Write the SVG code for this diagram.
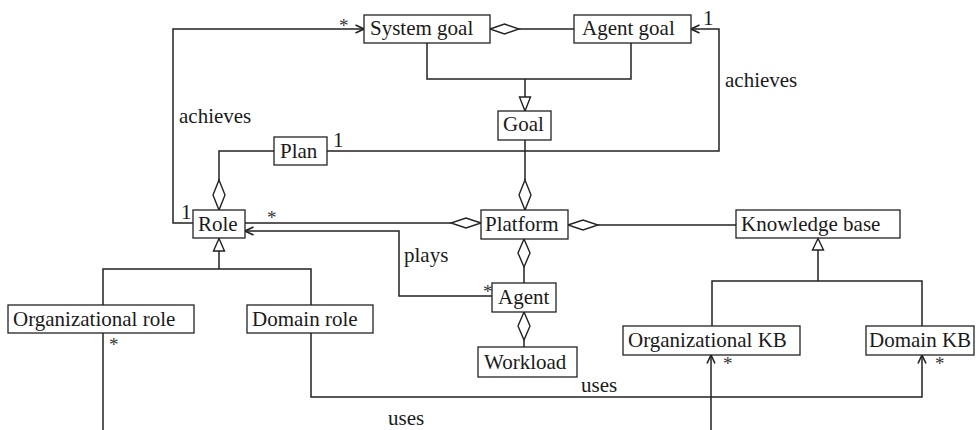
<svg xmlns="http://www.w3.org/2000/svg" width="976" height="430" viewBox="0 0 976 430">
<style>
.box{fill:#fff;stroke:#222;stroke-width:1.3}
.t{font-family:"Liberation Serif","Times New Roman",serif;font-size:21px;fill:#1a1a1a}
.s{font-family:"Liberation Serif","Times New Roman",serif;font-size:19px;fill:#333}
.ln{fill:none;stroke:#222;stroke-width:1.5}
.ar{fill:none;stroke:#222;stroke-width:1.5;marker-end:url(#arr)}
.dia{fill:#fff;stroke:#222;stroke-width:1.4}
.tri{fill:#fff;stroke:#222;stroke-width:1.4}
</style>
<defs>
<marker id="arr" viewBox="0 0 10 10" refX="9.5" refY="5" markerWidth="10" markerHeight="10" markerUnits="userSpaceOnUse" orient="auto">
<path d="M1,1 L9.5,5 L1,9" fill="none" stroke="#222" stroke-width="1.6"/>
</marker>
</defs>
<rect width="976" height="430" fill="#fff"/>
<g id="connectors">
<path class="ln" d="M519,29 H574"/>
<polygon class="dia" points="490,29 504.5,24 519,29 504.5,34"/>
<path class="ln" d="M427,43 V79 H631 V43 M525,79 V97"/>
<polygon class="tri" points="519.5,97 530.5,97 525,111"/>
<path class="ar" d="M193,223 H173 V29 H364"/>
<path class="ar" d="M327,151 H719 V29 H691"/>
<path class="ln" d="M274,151 H219 V180"/>
<polygon class="dia" points="219,180 225,195 219,210 213,195"/>
<path class="ln" d="M245,223 H451"/>
<polygon class="dia" points="481,223 466,218 451,223 466,228"/>
<path class="ar" d="M492,296 H399 V231 H245"/>
<path class="ln" d="M525,140 V180"/>
<polygon class="dia" points="525,180 531,195 525,210 519,195"/>
<polygon class="dia" points="568,225 583,220 598,225 583,230"/>
<path class="ln" d="M598,225 H736"/>
<polygon class="dia" points="524,239 530,253 524,267 518,253"/>
<path class="ln" d="M524,267 V283"/>
<polygon class="dia" points="524,312 530,326 524,340 518,326"/>
<path class="ln" d="M524,340 V347"/>
<path class="ln" d="M219,251 V269 M103,305 V269 H311 V305"/>
<polygon class="tri" points="219,238.5 224.5,251 213.5,251"/>
<path class="ln" d="M818,250 V281 M712,326 V281 H922 V326"/>
<polygon class="tri" points="818,238.5 823.5,250 812.5,250"/>
<path class="ar" d="M311,333 V397 H922 V355"/>
<path class="ln" d="M103,333 V430"/>
<path class="ar" d="M711,430 V355"/>
<text class="s" x="339" y="32">*</text>
<text class="t" x="703" y="25">1</text>
<text class="t" x="179" y="123">achieves</text>
<text class="t" x="725" y="87">achieves</text>
<text class="t" x="333" y="147">1</text>
<text class="t" x="181" y="219">1</text>
<text class="s" x="267" y="224">*</text>
<text class="t" x="404" y="262">plays</text>
<text class="s" x="483" y="298">*</text>
<text class="s" x="109" y="351">*</text>
<text class="s" x="723" y="370">*</text>
<text class="s" x="935" y="370">*</text>
<text class="t" x="581" y="392">uses</text>
<text class="t" x="388" y="425">uses</text>
</g>
<g id="system-goal"><rect class="box" x="364" y="15" width="126" height="28"/><text class="t" x="370" y="35">System goal</text></g>
<g id="agent-goal"><rect class="box" x="574" y="15" width="117" height="28"/><text class="t" x="582" y="35">Agent goal</text></g>
<g id="goal"><rect class="box" x="498" y="111" width="53" height="29"/><text class="t" x="503" y="131">Goal</text></g>
<g id="plan"><rect class="box" x="274" y="137" width="53" height="28"/><text class="t" x="280" y="158">Plan</text></g>
<g id="role"><rect class="box" x="193" y="210" width="52" height="28"/><text class="t" x="198" y="231">Role</text></g>
<g id="platform"><rect class="box" x="481" y="210" width="87" height="29"/><text class="t" x="485" y="231">Platform</text></g>
<g id="knowledge-base"><rect class="box" x="736" y="210" width="164" height="28"/><text class="t" x="741" y="231">Knowledge base</text></g>
<g id="agent"><rect class="box" x="492" y="283" width="64" height="29"/><text class="t" x="498" y="304">Agent</text></g>
<g id="workload"><rect class="box" x="478" y="347" width="99" height="30"/><text class="t" x="484" y="369">Workload</text></g>
<g id="organizational-role"><rect class="box" x="8" y="305" width="186" height="28"/><text class="t" x="13" y="326">Organizational role</text></g>
<g id="domain-role"><rect class="box" x="247" y="305" width="126" height="28"/><text class="t" x="252" y="326">Domain role</text></g>
<g id="organizational-kb"><rect class="box" x="623" y="326" width="177" height="29"/><text class="t" x="628" y="347">Organizational KB</text></g>
<g id="domain-kb"><rect class="box" x="866" y="326" width="108" height="29"/><text class="t" x="869" y="347">Domain KB</text></g>
</svg>
